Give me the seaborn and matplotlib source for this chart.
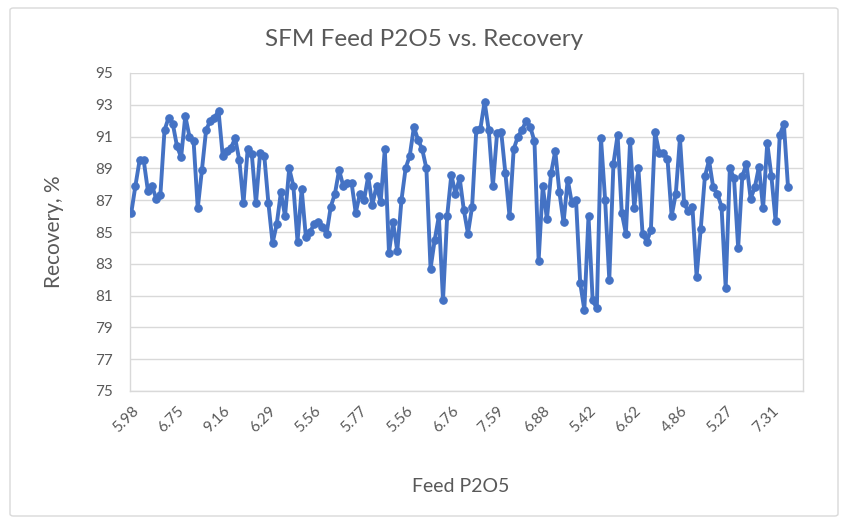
import matplotlib
matplotlib.use("Agg")
import matplotlib.pyplot as plt
import matplotlib.patches as patches
import matplotlib.transforms as mtransforms
import numpy as np
import pandas as pd
import seaborn as sns

# Recovery (%) for each sample, in sample order
recovery = [
    86.2, 87.9, 89.5, 89.5, 87.6, 87.9, 87.1, 87.3, 91.4, 92.2,
    91.8, 90.4, 89.7, 92.3, 91.0, 90.7, 86.5, 88.9, 91.4, 92.0,
    92.2, 92.6, 89.8, 90.1, 90.3, 90.9, 89.5, 86.8, 90.2,
    89.9, 86.8, 90.0, 89.8, 86.8, 84.3, 85.5, 87.5, 86.0, 89.0,
    87.9, 84.4, 87.7, 84.7, 85.0, 85.5, 85.6, 85.3, 84.9, 86.6, 87.4, 88.9,
    87.9, 88.1, 88.1, 86.2, 87.4, 87.0, 88.5, 86.7, 87.9, 86.9, 90.2, 83.7,
    85.6, 83.8, 87.0, 89.0, 89.8, 91.6, 90.8, 90.2, 89.0, 82.7,
    84.5, 86.0, 80.7, 86.0, 88.6, 87.4, 88.4, 86.4, 84.9, 86.6,
    91.4, 91.5, 93.2, 91.4, 87.9, 91.2, 91.3, 88.7, 86.0, 90.2,
    91.0, 91.4, 92.0, 91.6, 90.7, 83.2, 87.9, 85.8, 88.7,
    90.1, 87.5, 85.6, 88.3, 86.8, 87.0, 81.8, 80.1,
    86.0, 80.7, 80.2, 90.9, 87.0, 82.0, 89.3, 91.1, 86.2, 84.9,
    90.7, 86.5, 89.0, 84.9, 84.4, 85.1, 91.3, 90.0, 90.0, 89.6,
    86.0, 87.4, 90.9, 86.8, 86.3, 86.6, 82.2, 85.2, 88.5, 89.5,
    87.8, 87.4, 86.6, 81.5, 89.0, 88.4, 84.0, 88.5, 89.3, 87.1,
    87.8, 89.1, 86.5, 90.6, 88.5, 85.7, 91.1, 91.8, 87.8,
]

# Feed P2O5 labels shown along the category axis (every 11th sample)
feed_labels = ["5.98", "6.75", "9.16", "6.29", "5.56", "5.77", "5.56", "6.76",
               "7.59", "6.88", "5.42", "6.62", "4.86", "5.27", "7.31"]
label_step = 11

y_ticks = [75, 77, 79, 81, 83, 85, 87, 89, 91, 93, 95]

df = pd.DataFrame({"sample": np.arange(len(recovery)), "recovery": recovery})

sns.set_theme(style="white")
plt.rcParams["font.family"] = ["Lato", "DejaVu Sans"]

W, H = 847, 522
fig = plt.figure(figsize=(W / 100, H / 100), dpi=100)
fig.patch.set_facecolor("white")

# outer chart frame
frame = patches.FancyBboxPatch((10 / W, 1 - 516 / H), 828 / W, 508 / H,
                               boxstyle="round,pad=0,rounding_size=0.004",
                               transform=fig.transFigure, facecolor="none",
                               edgecolor="#d9d9d9", linewidth=1.0, zorder=0)
fig.patches.append(frame)

ax = fig.add_axes([130 / W, 1 - 391 / H, (803 - 130) / W, (391 - 73) / H])
ax.set_facecolor("none")

blue = "#4472C4"
sns.lineplot(data=df, x="sample", y="recovery", ax=ax, color=blue,
             linewidth=2.8, marker="o", markersize=5.4,
             markeredgecolor=blue, markerfacecolor=blue, zorder=3)

ax.set_ylim(75, 95)
ax.set_yticks(y_ticks)
ax.set_yticklabels([str(v) for v in y_ticks])
ax.set_xlim(-0.3, 161.6)

pos = [i * label_step for i in range(len(feed_labels))]
ax.set_xticks(pos)
ax.set_xticklabels(feed_labels, rotation=45, ha="right", rotation_mode="anchor")
shift = mtransforms.ScaledTranslation(-3 / 100, 0, fig.dpi_scale_trans)
for lbl in ax.get_xticklabels():
    lbl.set_transform(lbl.get_transform() + shift)

ax.grid(axis="y", color="#d9d9d9", linewidth=1.0, zorder=0)
ax.grid(axis="x", visible=False)
for side in ["left", "right", "bottom", "top"]:
    ax.spines[side].set_color("#d9d9d9")
    ax.spines[side].set_linewidth(1.0)
ax.spines["top"].set_visible(False)

ax.tick_params(axis="y", length=0, pad=12, labelsize=11, labelcolor="#595959")
ax.tick_params(axis="x", length=4, color="#d9d9d9", pad=5,
               labelsize=11, labelcolor="#595959")

ax.set_xlabel("Feed P2O5", fontsize=14, color="#595959", labelpad=34)
ax.xaxis.set_label_coords(0.492, -0.0, transform=ax.transAxes)
ax.xaxis.label.set_va("center")
ax.xaxis.label.set_transform(ax.transAxes + mtransforms.ScaledTranslation(0, -0.96, fig.dpi_scale_trans))
ax.set_ylabel("Recovery, %", fontsize=15, color="#595959", labelpad=23)

fig.text(424 / W, 1 - 40 / H, "SFM Feed P2O5 vs. Recovery", ha="center",
         va="center", fontsize=17.5, color="#595959")

fig.savefig("out.png", dpi=100, facecolor="white")
